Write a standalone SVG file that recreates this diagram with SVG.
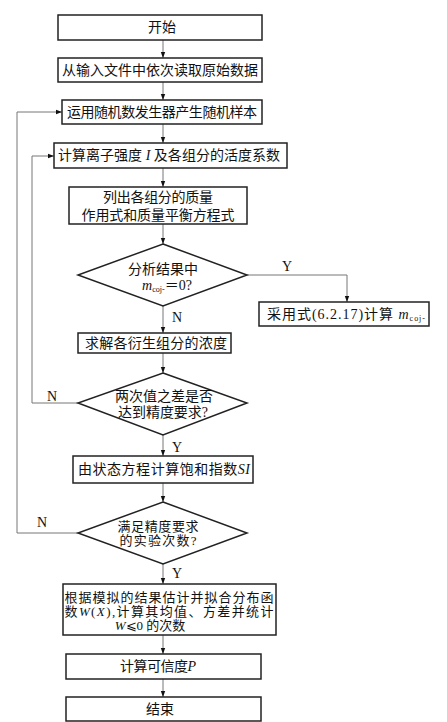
<svg xmlns="http://www.w3.org/2000/svg" width="447" height="722" viewBox="0 0 447 722">
<style>
.box{fill:#fff;stroke:#222;stroke-width:1.5}
.dia{fill:#fff;stroke:#222;stroke-width:1.5}
.t{font-family:"Liberation Serif","Noto Sans CJK SC",serif;font-size:14px;fill:#111;text-anchor:middle}
.s{font-size:13px}
.i{font-style:italic}
.lbl{font-family:"Liberation Serif",serif;font-size:14px;fill:#111;text-anchor:middle}
.c{fill:none;stroke:#777;stroke-width:1}
</style>
<defs>
<marker id="ah" markerWidth="6" markerHeight="6" refX="6" refY="3" orient="auto" markerUnits="userSpaceOnUse">
<path d="M0,0.8 L6,3 L0,5.2 Z" fill="#111"/>
</marker>
</defs>
<rect width="447" height="722" fill="#fff"/>
<g id="connectors">
<path class="c" d="M163,40 V58" marker-end="url(#ah)"/>
<path class="c" d="M163,82 V100" marker-end="url(#ah)"/>
<path class="c" d="M163,124 V143" marker-end="url(#ah)"/>
<path class="c" d="M163,168 V187" marker-end="url(#ah)"/>
<path class="c" d="M163,224 V244" marker-end="url(#ah)"/>
<path class="c" d="M247,275 H347 V302" marker-end="url(#ah)"/>
<path class="c" d="M163,306 V333" marker-end="url(#ah)"/>
<path class="c" d="M163,353 V373" marker-end="url(#ah)"/>
<path class="c" d="M163,435 V456" marker-end="url(#ah)"/>
<path class="c" d="M163,483 V502" marker-end="url(#ah)"/>
<path class="c" d="M163,564 V584" marker-end="url(#ah)"/>
<path class="c" d="M163,635 V654" marker-end="url(#ah)"/>
<path class="c" d="M163,679 V697" marker-end="url(#ah)"/>
<path class="c" d="M78,403 H32 V156 H54" marker-end="url(#ah)"/>
<path class="c" d="M78,533 H17 V112 H62" marker-end="url(#ah)"/>
<text class="lbl" x="287" y="271">Y</text>
<text class="lbl" x="177" y="322">N</text>
<text class="lbl" x="52" y="401">N</text>
<text class="lbl" x="177" y="452">Y</text>
<text class="lbl" x="42" y="527">N</text>
<text class="lbl" x="177" y="578">Y</text>
</g>
<g id="start">
<rect class="box" x="58" y="15" width="204" height="25"/>
<text class="t" x="162" y="32">开始</text>
</g>
<g id="read">
<rect class="box" x="58" y="58" width="204" height="24"/>
<text class="t" x="160" y="75" textLength="196" lengthAdjust="spacing">从输入文件中依次读取原始数据</text>
</g>
<g id="random">
<rect class="box" x="62" y="100" width="200" height="24"/>
<text class="t" x="162" y="117" textLength="190" lengthAdjust="spacing">运用随机数发生器产生随机样本</text>
</g>
<g id="ionic">
<rect class="box" x="54" y="143" width="233" height="25"/>
<text class="t" x="169" y="160" textLength="222" lengthAdjust="spacing">计算离子强度 <tspan class="i">I</tspan> 及各组分的活度系数</text>
</g>
<g id="mass">
<rect class="box" x="69" y="187" width="178" height="37"/>
<text class="t" x="158" y="202" textLength="110" lengthAdjust="spacing">列出各组分的质量</text>
<text class="t" x="158" y="220" textLength="153" lengthAdjust="spacing">作用式和质量平衡方程式</text>
</g>
<g id="dec1">
<polygon class="dia" points="163,244 247,275 163,306 78,275"/>
<text class="t" x="163" y="274" textLength="70" lengthAdjust="spacing">分析结果中</text>
<text class="t" x="167" y="290"><tspan class="i">m</tspan><tspan font-size="8" dy="2">coj-</tspan><tspan dy="-2">＝0?</tspan></text>
</g>
<g id="formula">
<rect class="box" x="259" y="302" width="170" height="24"/>
<text class="t" x="346" y="319" textLength="158" lengthAdjust="spacing">采用式(6.2.17)计算 <tspan class="i">m</tspan><tspan font-size="8" dy="2">coj-</tspan></text>
</g>
<g id="solve">
<rect class="box" x="78" y="333" width="153" height="20"/>
<text class="t" x="156" y="348" textLength="142" lengthAdjust="spacing">求解各衍生组分的浓度</text>
</g>
<g id="dec2">
<polygon class="dia" points="163,373 247,403 163,435 78,403"/>
<text class="t" x="164" y="401" textLength="98" lengthAdjust="spacing">两次值之差是否</text>
<text class="t" x="163" y="417" textLength="90" lengthAdjust="spacing">达到精度要求?</text>
</g>
<g id="si">
<rect class="box" x="73" y="456" width="180" height="27"/>
<text class="t" x="164" y="474" textLength="172" lengthAdjust="spacing">由状态方程计算饱和指数<tspan class="i">SI</tspan></text>
</g>
<g id="dec3">
<polygon class="dia" points="163,502 247,533 163,564 78,533"/>
<text class="t s" x="158" y="531" textLength="81" lengthAdjust="spacing">满足精度要求</text>
<text class="t s" x="158" y="545" textLength="77" lengthAdjust="spacing">的实验次数?</text>
</g>
<g id="fit">
<rect class="box" x="63" y="584" width="213" height="51"/>
<text class="t s" x="169" y="602" textLength="209" lengthAdjust="spacing">根据模拟的结果估计并拟合分布函</text>
<text class="t s" x="169" y="616" textLength="209" lengthAdjust="spacing">数<tspan class="i">W</tspan>(<tspan class="i">X</tspan>),计算其均值、方差并统计</text>
<text class="t s" x="150" y="630"><tspan class="i">W</tspan>⩽0 的次数</text>
</g>
<g id="reliability">
<rect class="box" x="66" y="654" width="195" height="25"/>
<text class="t" x="158" y="671"><tspan textLength="68" lengthAdjust="spacing">计算可信度</tspan><tspan class="i">P</tspan></text>
</g>
<g id="end">
<rect class="box" x="66" y="697" width="195" height="24"/>
<text class="t" x="160" y="714">结束</text>
</g>
</svg>
